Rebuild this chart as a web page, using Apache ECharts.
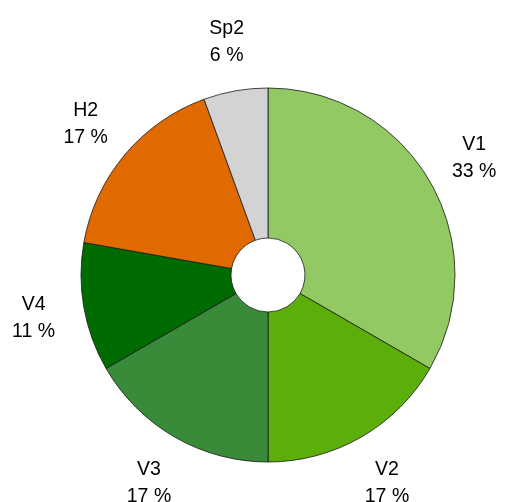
<!DOCTYPE html>
<html><head><meta charset="utf-8">
<script src="https://cdn.jsdelivr.net/npm/echarts@6/dist/echarts.min.js"></script>
<style>html,body{margin:0;padding:0;background:#fff}#c{width:507px;height:502px}</style>
</head><body><div id="c"></div>
<script>
const categories = ['V1','V2','V3','V4','H2','Sp2'];
const values = [6, 3, 3, 2, 3, 1];
const colors = ['#92c962','#5caf0b','#398b3a','#006b00','#e06a00','#d3d3d3'];

const mainData = categories.map((c,i)=>({name:c,value:values[i],itemStyle:{color:colors[i]}}));
const labelData = categories.map((c,i)=>({name:c,value:values[i]}));
const chart = echarts.init(document.getElementById('c'));
chart.setOption({
  animation:false,
  series:[
    {type:'pie', center:[268,275], radius:[37,187], startAngle:90, clockwise:true,
     data:mainData, label:{show:false}, labelLine:{show:false}, silent:true,
     itemStyle:{borderColor:'#1a1a1a', borderWidth:0.8}},
    {type:'pie', center:[268,277], radius:[226,244], startAngle:90, clockwise:true,
     data:labelData, silent:true, percentPrecision:2,
     itemStyle:{color:'rgba(0,0,0,0)', borderWidth:0},
     labelLine:{show:false},
     label:{show:true, position:'inside', color:'#000', fontFamily:'Liberation Sans, Arial, sans-serif',
       fontSize:19.5, lineHeight:27, align:'center', verticalAlign:'middle',
       formatter:p=>p.name+'\n'+Math.round(p.percent)+' %'}}
  ]
});
</script></body></html>
